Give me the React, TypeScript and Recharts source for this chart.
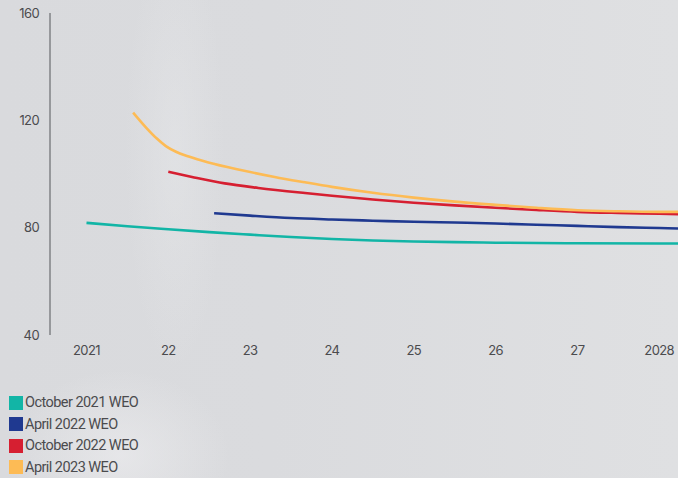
import React from 'react';
import { LineChart, Line, XAxis, YAxis, Legend } from 'recharts';

// Forecast paths from successive WEO vintages (index level by year)
const oct2021Years = [2021, 2021.5, 2022, 2022.5, 2023, 2023.5, 2024, 2024.5, 2025, 2025.5, 2026, 2027, 2028, 2028.23];
const oct2021Values = [81.8, 80.5, 79.4, 78.35, 77.4, 76.5, 75.75, 75.2, 74.85, 74.6, 74.4, 74.2, 74.1, 74.1];

const apr2022Years = [2022.56, 2023, 2023.5, 2024, 2024.5, 2025, 2025.5, 2026, 2026.5, 2027, 2027.5, 2028, 2028.23];
const apr2022Values = [85.4, 84.5, 83.6, 83.05, 82.6, 82.2, 81.9, 81.55, 81.1, 80.65, 80.2, 79.85, 79.7];

const oct2022Years = [2022, 2022.29, 2022.69, 2023.1, 2023.67, 2024, 2024.5, 2025, 2025.5, 2026, 2026.5, 2027, 2027.5, 2028, 2028.23];
const oct2022Values = [100.8, 98.9, 96.5, 94.8, 92.9, 91.9, 90.5, 89.3, 88.3, 87.4, 86.6, 85.9, 85.5, 85.2, 85.05];

const apr2023Years = [2021.57, 2021.72, 2021.86, 2021.97, 2022.1, 2022.25, 2022.49, 2022.9, 2023.3, 2023.67, 2024, 2024.5, 2025, 2025.5, 2026, 2026.5, 2027, 2027.5, 2028, 2028.23];
const apr2023Values = [122.9, 117.6, 113.2, 110.4, 108.2, 106.5, 104.3, 101.4, 98.9, 96.9, 95.2, 93.0, 91.2, 89.7, 88.5, 87.4, 86.5, 86.1, 85.9, 85.9];

const xTicks = [2021, 2022, 2023, 2024, 2025, 2026, 2027, 2028];
const xTickLabels = ['2021', '22', '23', '24', '25', '26', '27', '2028'];
const yTicks = [40, 80, 120, 160];

const toPoints = (years: number[], values: number[]) =>
  years.map((year, i) => ({ year, value: values[i] }));

const series = [
  { name: 'October 2021 WEO', color: '#12b5a6', data: toPoints(oct2021Years, oct2021Values) },
  { name: 'April 2022 WEO', color: '#1f3990', data: toPoints(apr2022Years, apr2022Values) },
  { name: 'October 2022 WEO', color: '#d61f31', data: toPoints(oct2022Years, oct2022Values) },
  { name: 'April 2023 WEO', color: '#fdbb55', data: toPoints(apr2023Years, apr2023Values) },
];

const TEXT = '#4b4b4e';
const FONT = 'Inter, "Open Sans", sans-serif';

// Vertical legend, listed in series order
const renderLegend = () => (
  <ul style={{ listStyle: 'none', margin: 0, padding: 0, fontFamily: 'Roboto, sans-serif' }}>
    {series.map((s) => (
      <li
        key={s.name}
        style={{
          display: 'flex',
          alignItems: 'center',
          height: 21.5,
          fontSize: 14.5,
          color: TEXT,
          letterSpacing: -0.55,
        }}
      >
        <span
          style={{
            display: 'inline-block',
            width: 14,
            height: 14,
            background: s.color,
            marginRight: 2,
          }}
        />
        <span>{s.name}</span>
      </li>
    ))}
  </ul>
);

export default function App() {
  return (
    <div
      style={{
        position: 'absolute',
        left: 0,
        top: 0,
        width: 678,
        height: 478,
        overflow: 'hidden',
        background:
          'radial-gradient(ellipse 110px 85px at 120px 455px, rgba(238,238,240,0.6), rgba(238,238,240,0) 100%),' +
          'radial-gradient(ellipse 50px 220px at 175px 150px, rgba(232,233,235,0.45), rgba(232,233,235,0) 100%),' +
          'linear-gradient(90deg, #d9dadd 0%, #dadbde 40%, #dfe0e2 100%)',
      }}
    >
      <LineChart
        width={678}
        height={478}
        margin={{ top: 13, right: 0, bottom: 2, left: 0 }}
        style={{ fontFamily: FONT }}
      >
        <XAxis
          type="number"
          dataKey="year"
          domain={[2020.554, 2028.23]}
          allowDataOverflow
          ticks={xTicks}
          interval={0}
          tickFormatter={(v: number) => xTickLabels[xTicks.indexOf(v)]}
          axisLine={false}
          tickLine={false}
          tickMargin={5}
          height={55}
          tick={{ fill: TEXT, fontSize: 13, letterSpacing: -0.6 }}
        />
        <YAxis
          type="number"
          domain={[40, 160]}
          ticks={yTicks}
          interval={0}
          width={50}
          axisLine={{ stroke: '#55565a', strokeWidth: 1 }}
          tickLine={false}
          tickMargin={5}
          tick={{ fill: TEXT, fontSize: 13, letterSpacing: -0.6 }}
        />
        <Legend
          verticalAlign="bottom"
          align="left"
          layout="horizontal"
          content={renderLegend}
          wrapperStyle={{ left: 9, bottom: 0 }}
        />
        {series.map((s) => (
          <Line
            key={s.name}
            data={s.data}
            dataKey="value"
            name={s.name}
            type="monotone"
            stroke={s.color}
            strokeWidth={2.6}
            dot={false}
            activeDot={false}
            isAnimationActive={false}
          />
        ))}
      </LineChart>
    </div>
  );
}
